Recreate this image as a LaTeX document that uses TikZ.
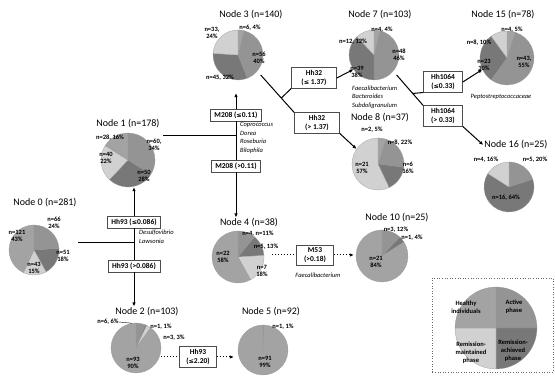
\documentclass[tikz,border=0pt]{standalone}
\usepackage{fontspec}
\setmainfont{Carlito}
\newfontfamily\symfont{DejaVu Sans}[Scale=0.85]
\usetikzlibrary{arrows.meta,calc}

\colorlet{healthcol}{black!36}
\colorlet{activecol}{black!42}
\colorlet{achcol}{black!53}
\colorlet{maintcol}{black!18}

\newcommand{\lesym}{{\symfont ≤}}
\newcommand{\drawpie}[3]{%
  \xdef\pieang{90}%
  \foreach \pct/\col in {#3}{%
    \pgfmathsetmacro\pieend{\pieang-3.6*\pct}
    \filldraw[fill=\col,draw=black!40,line width=.25pt] (#1.center) -- ++(\pieang:#2)
      arc[start angle=\pieang,end angle=\pieend,radius=#2] -- cycle;
    \xdef\pieang{\pieend}%
  }}

\begin{document}
\begin{tikzpicture}[x=1pt,y=1pt,
    title/.style={font=\fontsize{10}{12}\selectfont,inner sep=1pt},
    lab/.style={font=\fontsize{6.5}{7.5}\selectfont\bfseries,align=center,inner sep=0pt},
    crit/.style={draw=black!70,line width=.6pt,fill=white,align=center,
      font=\fontsize{7.5}{9}\selectfont\bfseries,inner xsep=4pt,inner ysep=2.5pt},
    taxa/.style={font=\fontsize{6.5}{8.5}\selectfont\itshape,align=left,inner sep=0pt},
    legtext/.style={font=\fontsize{6.5}{8}\selectfont\bfseries,align=center,inner sep=0pt},
    piebase/.style={circle,inner sep=0pt},
    link/.style={line width=1pt},
    flow/.style={line width=1pt,-{Latex[length=4pt,width=3.5pt]}},
    dotflow/.style={line width=1pt,dotted,-{Latex[length=4pt,width=3.5pt]}}
  ]
  \useasboundingbox (0,0) rectangle (555,382);

  \node[title] (t0) at (45,179) {Node 0 (n=281)};
  \node[piebase,minimum size=50pt] (p0) at (34,132) {};
  \drawpie{p0}{25pt}{24/activecol,18/achcol,15/maintcol,43/healthcol}
  \node[lab] (l0a) at (54,159) {n=66\\24\%};
  \node[lab] (l0b) at (17,146) {n=121\\43\%};
  \node[lab] (l0c) at (63,126) {n=51\\18\%};
  \node[lab] (l0d) at (34,114) {n=43\\15\%};

  \node[title] (t1) at (128,258) {Node 1 (n=178)};
  \node[piebase,minimum size=54pt] (p1) at (128,222) {};
  \drawpie{p1}{27pt}{34/activecol,28/achcol,22/maintcol,16/healthcol}
  \node[lab] (l1a) at (110,244) {n=28, 16\%};
  \node[lab] (l1b) at (154,237) {n=60,\\34\%};
  \node[lab] (l1c) at (106,224) {n=40\\22\%};
  \node[lab] (l1d) at (144,206) {n=50\\28\%};

  \node[title] (t2) at (147,70) {Node 2 (n=103)};
  \node[piebase,minimum size=50pt] (p2) at (136,34) {};
  \drawpie{p2}{25pt}{6/activecol,1/achcol,3/maintcol,90/healthcol}
  \node[lab] (l2a) at (108,60) {n=6, 6\%};
  \node[lab] (l2b) at (161,55) {n=1, 1\%};
  \node[lab] (l2c) at (174,44) {n=3, 3\%};
  \node[lab] (l2d) at (133,19) {n=93\\90\%};
  \draw[line width=.4pt] (l2a.east) -- (p2.100);

  \node[title] (t3) at (251,367) {Node 3 (n=140)};
  \node[piebase,minimum size=50pt] (p3) at (238,327) {};
  \drawpie{p3}{25pt}{4/healthcol,40/activecol,32/achcol,24/maintcol}
  \node[lab] (l3a) at (212,349) {n=33,\\24\%};
  \node[lab] (l3b) at (250,354) {n=6, 4\%};
  \node[lab] (l3c) at (259,324) {n=56\\40\%};
  \node[lab] (l3d) at (220,304) {n=45, 32\%};

  \node[title] (t4) at (249,159) {Node 4 (n=38)};
  \node[piebase,minimum size=52pt] (p4) at (238,125) {};
  \drawpie{p4}{26pt}{11/activecol,13/achcol,18/maintcol,58/healthcol}
  \node[lab] (l4a) at (258,148) {n=4, n=11\%};
  \node[lab] (l4b) at (266,135) {n=5, 13\%};
  \node[lab] (l4c) at (223,125) {n=22\\58\%};
  \node[lab] (l4d) at (262,111) {n=7\\18\%};

  \node[title] (t5) at (271,70) {Node 5 (n=92)};
  \node[piebase,minimum size=50pt] (p5) at (263,32) {};
  \drawpie{p5}{25pt}{1/activecol,99/healthcol}
  \node[lab] (l5a) at (283,55) {n=1, 1\%};
  \node[lab] (l5b) at (265,20) {n=91\\99\%};

  \node[title] (t7) at (380,367) {Node 7 (n=103)};
  \node[piebase,minimum size=50pt] (p7) at (374,327) {};
  \drawpie{p7}{25pt}{4/healthcol,46/activecol,38/achcol,12/maintcol}
  \node[lab] (l7a) at (382,352) {n=4, 4\%};
  \node[lab] (l7b) at (353,340) {n=12, 12\%};
  \node[lab] (l7c) at (399,327) {n=48\\46\%};
  \node[lab] (l7d) at (357,310) {n=39\\38\%};

  \node[title] (t8) at (380,264) {Node 8 (n=37)};
  \node[piebase,minimum size=52pt] (p8) at (378,218) {};
  \drawpie{p8}{26pt}{5/healthcol,22/activecol,16/achcol,57/maintcol}
  \node[lab] (l8a) at (372,252) {n=2, 5\%};
  \node[lab] (l8b) at (400,239) {n=8, 22\%};
  \node[lab] (l8c) at (408,214) {n=6\\16\%};
  \node[lab] (l8d) at (362,214) {n=21\\57\%};

  \node[title] (t10) at (397,164) {Node 10 (n=25)};
  \node[piebase,minimum size=52pt] (p10) at (382,126) {};
  \drawpie{p10}{26pt}{12/activecol,4/achcol,84/healthcol}
  \node[lab] (l10a) at (396,152) {n=3, 12\%};
  \node[lab] (l10b) at (412,144) {n=1, 4\%};
  \node[lab] (l10c) at (376,120) {n=21\\84\%};

  \node[title] (t15) at (503,367) {Node 15 (n=78)};
  \node[piebase,minimum size=54pt] (p15) at (507,324) {};
  \drawpie{p15}{27pt}{5/healthcol,55/activecol,30/achcol,10/maintcol}
  \node[lab] (l15a) at (512,352) {n=4, 5\%};
  \node[lab] (l15b) at (479,339) {n=8, 10\%};
  \node[lab] (l15c) at (524,320) {n=43,\\55\%};
  \node[lab] (l15d) at (484,317) {n=23\\30\%};

  \node[title] (t16) at (516,237) {Node 16 (n=25)};
  \node[piebase,minimum size=50pt] (p16) at (509,195) {};
  \drawpie{p16}{25pt}{20/activecol,64/achcol,16/maintcol}
  \node[lab] (l16a) at (486,222) {n=4, 16\%};
  \node[lab] (l16b) at (535,222) {n=5, 20\%};
  \node[lab] (l16c) at (506,184) {n=16, 64\%};

  \node[crit] (hh93a) at (134,160) {Hh93 (\lesym0.086)};
  \node[crit] (hh93b) at (134,116) {Hh93 (>0.086)};
  \node[crit] (m208a) at (236,267) {M208 (\lesym0.11)};
  \node[crit] (m208b) at (236,216) {M208 (>0.11)};
  \node[crit,minimum width=45pt] (hh32a) at (314,304) {Hh32\\(\lesym{} 1.37)};
  \node[crit,minimum width=45pt] (hh32b) at (317,259) {Hh32\\(> 1.37)};
  \node[crit,minimum width=39pt] (hh1064a) at (443,300) {Hh1064\\(\lesym0.33)};
  \node[crit,minimum width=39pt] (hh1064b) at (443,266) {Hh1064\\(> 0.33)};
  \node[crit,minimum width=37pt] (m53) at (315,127) {M53\\(>0.18)};
  \node[crit,minimum width=37pt] (hh93c) at (198,25) {Hh93\\(\lesym2.20)};

  \node[taxa,anchor=west] (tx0) at (139,145) {Desulfovibrio\\Lawsonia};
  \node[taxa,anchor=west] (tx1) at (240,244) {Coprococcus\\Dorea\\Roseburia\\Bilophila};
  \node[taxa,anchor=west] (tx2) at (352,285) {Faecalibacterium\\Bacteroides\\Subdoligranulum};
  \node[taxa] (tx3) at (501,285) {Peptostreptococcaceae};
  \node[taxa] (tx4) at (318,107) {Faecalibacterium};

  \coordinate (s0) at (78,139);
  \coordinate (j0) at (134,139);
  \coordinate (s1) at (163,246);
  \coordinate (j1) at (236,246);

  \draw[link] (s0) -- (j0);
  \draw[link] (hh93a.south) -- (hh93b.north);
  \draw[flow] (hh93a.north) -- (hh93a.north |- p1.south);
  \draw[flow] (hh93b.south) -- (hh93b.south |- t2.north);

  \draw[link] (s1) -- (j1);
  \draw[link] (m208a.south) -- (m208b.north);
  \draw[flow,shorten >=13pt] (m208a.north) -- (m208a.north |- p3.south);
  \draw[flow] (m208b.south) -- (m208b.south |- t4.north);

  \coordinate (j3) at ($(p3.-40)!.65!(hh32b.north west)$);
  \draw[link,shorten <=5pt] (p3.-40) -- (hh32b.north west);
  \draw[link] (j3) -- (hh32a.south west);
  \draw[flow] (hh32a.east) -- (p7.215);
  \draw[flow] (hh32b.south east) -- (p8.145);

  \coordinate (j7) at ($(p7.-40)!.65!(hh1064b.north west)$);
  \draw[link,shorten <=5pt] (p7.-40) -- (hh1064b.north west);
  \draw[link] (j7) -- (hh1064a.south west);
  \draw[flow] (hh1064a.east) -- (p15.205);
  \draw[flow] (hh1064b.south east) -- (t16.west);

  \draw[link,dotted,shorten <=8pt] (p4.east |- m53.west) -- (m53.west);
  \draw[dotflow,shorten >=2pt] (m53.east) -- (m53.east -| p10.west);
  \draw[link,dotted] (p2.east |- hh93c.west) -- (hh93c.west);
  \draw[dotflow,shorten >=4pt] (hh93c.east) -- (hh93c.east -| p5.west);

  \draw[dotted,line width=.6pt,black!60] (432,10) rectangle (553,104);
  \node[piebase,minimum size=82pt] (pleg) at (496,54) {};
  \drawpie{pleg}{41pt}{25/activecol,25/achcol,25/maintcol,25/healthcol}
  \node[legtext] (lga) at (466,75) {Healthy\\individuals};
  \node[legtext] (lgb) at (514,75) {Active\\phase};
  \node[legtext] (lgc) at (471,29) {Remission-\\maintained\\phase};
  \node[legtext] (lgd) at (513,31) {Remission-\\achieved\\phase};
\end{tikzpicture}
\end{document}
